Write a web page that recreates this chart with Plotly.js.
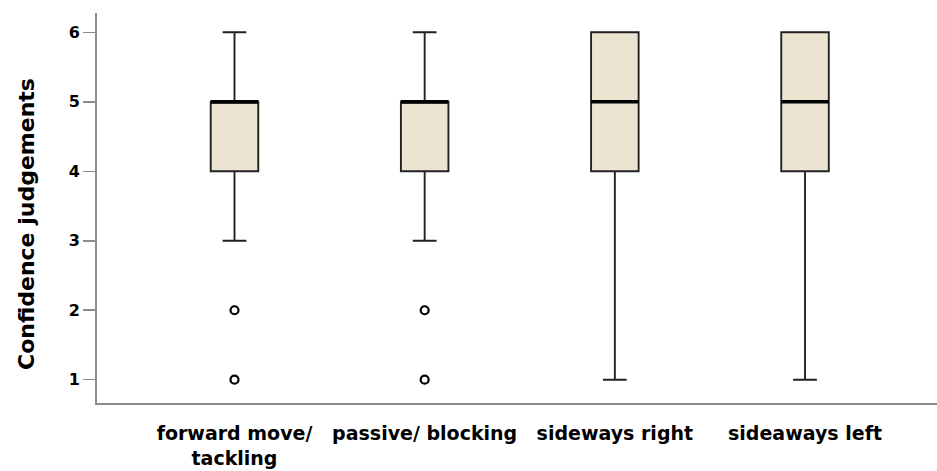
<!DOCTYPE html>
<html>
<head>
<meta charset="utf-8">
<script src="https://cdn.plot.ly/plotly-3.0.1.min.js"></script>
<style>html,body{margin:0;padding:0;background:#fff;}#chart{width:937px;height:471px;}</style>
</head>
<body>
<div id="chart"></div>
<script>
const categories = ["forward move/<br>tackling", "passive/ blocking", "sideways right", "sideaways left"];
const q1Values = [4, 4, 4, 4];
const medianValues = [5, 5, 5, 5];
const q3Values = [5, 5, 6, 6];
const lowerWhisker = [3, 3, 1, 1];
const upperWhisker = [6, 6, 6, 6];
const outlierCategories = ["forward move/<br>tackling", "forward move/<br>tackling", "passive/ blocking", "passive/ blocking"];
const outlierValues = [2, 1, 2, 1];
const yTicks = [1, 2, 3, 4, 5, 6];
const yTitle = "Confidence judgements";

const boxWidth = 0.25;
const font = "DejaVu Sans, Arial, sans-serif";

const boxTrace = {
  type: "box",
  x: categories,
  q1: q1Values,
  median: medianValues,
  q3: q3Values,
  lowerfence: lowerWhisker,
  upperfence: upperWhisker,
  width: boxWidth,
  whiskerwidth: 0.5,
  fillcolor: "#EAE4D0",
  line: {color: "#222222", width: 1.9},
  hoverinfo: "skip",
  showlegend: false
};

const outlierTrace = {
  type: "scatter",
  mode: "markers",
  x: outlierCategories,
  y: outlierValues,
  marker: {symbol: "circle-open", size: 8, color: "#000", line: {width: 2.2, color: "#000"}},
  hoverinfo: "skip",
  showlegend: false
};

const medianShapes = categories.map((c, i) => ({
  type: "line",
  xref: "x", yref: "y",
  x0: i - boxWidth / 2, x1: i + boxWidth / 2,
  y0: medianValues[i], y1: medianValues[i],
  line: {color: "#000", width: 3.5}
}));

const layout = {
  width: 937, height: 471,
  margin: {l: 97, r: 0, t: 13, b: 68},
  paper_bgcolor: "#fff",
  plot_bgcolor: "#fff",
  font: {family: font, color: "#000"},
  xaxis: {
    type: "category",
    categoryorder: "array",
    categoryarray: categories,
    range: [-0.723, 3.694],
    showgrid: false,
    zeroline: false,
    showline: true,
    linecolor: "#8c8c8c",
    linewidth: 2,
    ticks: "",
    ticklabelstandoff: 12,
    tickfont: {family: font, size: 19, color: "#000", weight: "bold"}
  },
  yaxis: {
    range: [0.665, 6.278],
    tickvals: yTicks,
    ticktext: yTicks.map(String),
    showgrid: false,
    zeroline: false,
    showline: true,
    linecolor: "#8c8c8c",
    linewidth: 2,
    ticks: "outside",
    ticklen: 12,
    tickwidth: 1.5,
    tickcolor: "#8c8c8c",
    tickfont: {family: font, size: 16, color: "#000", weight: "bold"}
  },
  annotations: [{
    text: yTitle,
    textangle: -90,
    xref: "paper", yref: "paper",
    x: 0, y: 0.459,
    xanchor: "center", yanchor: "middle",
    xshift: -70,
    showarrow: false,
    font: {family: font, size: 22, color: "#000", weight: "bold"}
  }],
  shapes: medianShapes
};

Plotly.newPlot("chart", [boxTrace, outlierTrace], layout, {displayModeBar: false, staticPlot: true});
</script>
</body>
</html>
